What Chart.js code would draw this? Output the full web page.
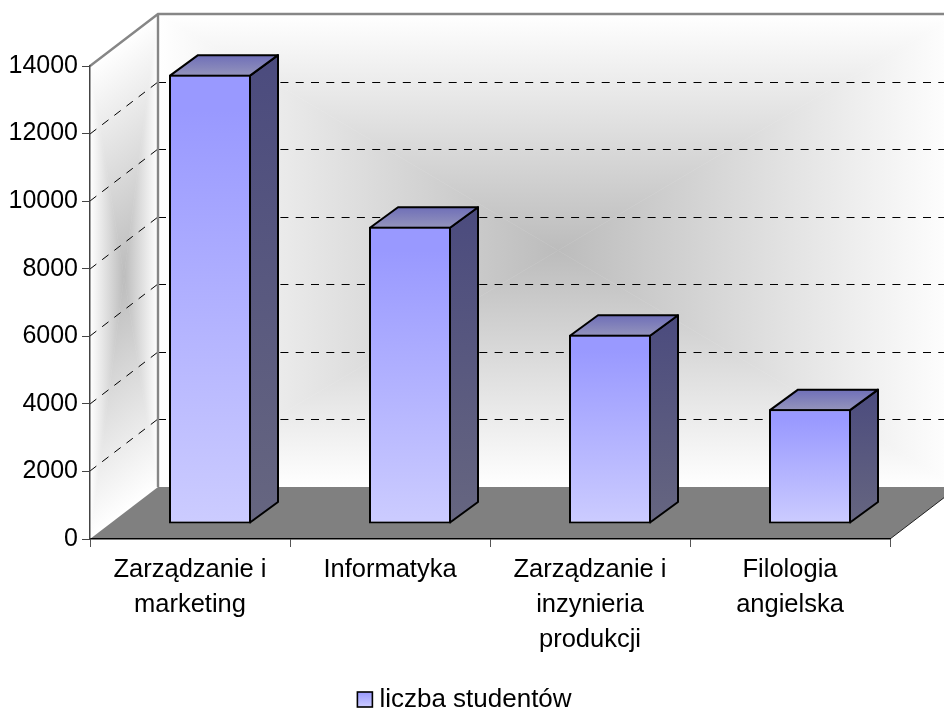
<!DOCTYPE html>
<html>
<head>
<meta charset="utf-8">
<style>html,body{margin:0;padding:0;background:#fff}#box{width:944px;height:708px}</style>
<script src="https://cdn.jsdelivr.net/npm/chart.js@4"></script>
</head>
<body>
<div id="box"><canvas id="c" width="944" height="708"></canvas></div>
<script>
const categories = [["Zarządzanie i","marketing"],"Informatyka",["Zarządzanie i","inzynieria","produkcji"],["Filologia","angielska"]];
const studentCounts = [13300, 8800, 5600, 3400];
const seriesName = "liczba studentów";
const axisMax = 14000;
const axisStep = 2000;

const FAMILY = '"Liberation Sans", Arial, sans-serif';
const DEPTH = {x:68, y:-52};
const BAR_SHIFT = {x:20, y:-15};
const BAR_DEPTH = {x:28, y:-20.5};
const LEGEND_SHIFT = {x:19, y:15};

function poly(ctx, pts){
  ctx.beginPath();
  pts.forEach((p,i)=> i ? ctx.lineTo(p[0],p[1]) : ctx.moveTo(p[0],p[1]));
  ctx.closePath();
}
function line(ctx,x1,y1,x2,y2){ctx.beginPath();ctx.moveTo(x1,y1);ctx.lineTo(x2,y2);ctx.stroke();}

// rectangular "from centre" gradient made of four triangles
function pathGradient(ctx,x0,y0,w,h,centre){
  const cx=x0+w/2, cy=y0+h/2;
  const tris=[
    [[x0,y0],[x0+w,y0],[cx,cy],x0,y0,x0,cy],
    [[x0,y0+h],[x0+w,y0+h],[cx,cy],x0,y0+h,x0,cy],
    [[x0,y0],[x0,y0+h],[cx,cy],x0,y0,cx,y0],
    [[x0+w,y0],[x0+w,y0+h],[cx,cy],x0+w,y0,cx,y0]
  ];
  tris.forEach(t=>{
    const g=ctx.createLinearGradient(t[3],t[4],t[5],t[6]);
    g.addColorStop(0,'#ffffff');g.addColorStop(1,centre);
    ctx.fillStyle=g;ctx.strokeStyle=g;ctx.lineWidth=0.5;
    poly(ctx,[t[0],t[1],t[2]]);ctx.fill();ctx.stroke();
  });
}

const walls = {
  id:'walls',
  beforeDraw(chart){
    const ctx=chart.ctx, y=chart.scales.y, a=chart.chartArea;
    ctx.save();
    ctx.fillStyle='#fff';ctx.fillRect(0,0,chart.width,chart.height);
    const L=a.left,R=a.right,T=a.top,B=a.bottom;
    const bl=L+DEPTH.x, br=R+DEPTH.x, bt=T+DEPTH.y, bb=B+DEPTH.y;
    pathGradient(ctx,bl,bt,br-bl,bb-bt,'#bcbcbc');
    ctx.save();
    poly(ctx,[[L,T],[bl,bt],[bl,bb],[L,B]]);ctx.clip();
    ctx.transform(1,DEPTH.y/DEPTH.x,0,1,L,T);
    pathGradient(ctx,0,0,DEPTH.x,B-T,'#bcbcbc');
    ctx.restore();
    ctx.fillStyle='#808080';
    poly(ctx,[[L,B],[bl,bb],[br,bb],[R,B]]);ctx.fill();
    ctx.strokeStyle='#222';ctx.lineWidth=1;
    line(ctx,R,B,br,bb);
    ctx.strokeStyle='#000';ctx.lineWidth=1;ctx.setLineDash([8,7.3]);
    y.ticks.forEach(t=>{
      if(t.value<=0||t.value>=axisMax) return;
      const p=Math.round(y.getPixelForValue(t.value));
      line(ctx,L,p,bl,p+DEPTH.y);
      line(ctx,bl,p+DEPTH.y+0.5,br,p+DEPTH.y+0.5);
    });
    ctx.setLineDash([]);
    ctx.strokeStyle='#868686';ctx.lineWidth=2.4;
    ctx.beginPath();ctx.moveTo(L,T);ctx.lineTo(bl,bt);ctx.lineTo(br,bt);ctx.moveTo(bl,bt);ctx.lineTo(bl,bb);ctx.stroke();
    ctx.restore();
  },
  afterLayout(chart){
    chart.legend.left+=LEGEND_SHIFT.x;chart.legend.right+=LEGEND_SHIFT.x;
    chart.legend.top+=LEGEND_SHIFT.y;chart.legend.bottom+=LEGEND_SHIFT.y;
  },
  beforeDatasetDraw(chart,args){
    const ctx=chart.ctx, meta=args.meta;
    ctx.save();
    ctx.translate(BAR_SHIFT.x,BAR_SHIFT.y);
    meta.data.forEach(el=>{
      const p=el.getProps(['x','y','base','width'],true);
      const l=p.x-p.width/2+1,r=p.x+p.width/2-1,t=p.y+1,b=p.base-1;
      const dx=BAR_DEPTH.x,dy=BAR_DEPTH.y;
      let g=ctx.createLinearGradient(0,t+dy,0,b);
      g.addColorStop(0,'#4b4b7e');g.addColorStop(1,'#666680');
      ctx.fillStyle=g;ctx.strokeStyle='#000';ctx.lineWidth=2;ctx.lineJoin='round';
      poly(ctx,[[r,t],[r+dx,t+dy],[r+dx,b+dy],[r,b]]);ctx.fill();ctx.stroke();
      g=ctx.createLinearGradient(0,t+dy,0,t);
      g.addColorStop(0,'#6f6fb8');g.addColorStop(1,'#9494bc');
      ctx.fillStyle=g;
      poly(ctx,[[l,t],[l+dx,t+dy],[r+dx,t+dy],[r,t]]);ctx.fill();ctx.stroke();
    });
  },
  afterDatasetDraw(chart){chart.ctx.restore();},
  afterDraw(chart){
    const ctx=chart.ctx, h=chart.legend.legendHitBoxes[0];
    const s=15, x=h.left+1, y=692;
    const g=ctx.createLinearGradient(0,y,0,y+s);
    g.addColorStop(0,'#9999ff');g.addColorStop(1,'#ccccff');
    ctx.save();
    ctx.fillStyle=g;ctx.strokeStyle='#000';ctx.lineWidth=1.6;
    ctx.fillRect(x,y,s,s);ctx.strokeRect(x,y,s,s);
    ctx.restore();
  }
};

function barFill(c){
  const chart=c.chart;
  if(!chart.chartArea||!c.parsed) return '#9999ff';
  const y=chart.scales.y;
  const g=chart.ctx.createLinearGradient(0,y.getPixelForValue(c.parsed.y),0,y.getPixelForValue(0));
  g.addColorStop(0.08,'#9999ff');g.addColorStop(1,'#ccccff');
  return g;
}

new Chart(document.getElementById('c'),{
  type:'bar',
  data:{labels:categories,datasets:[{
    label:seriesName,data:studentCounts,
    backgroundColor:barFill,borderColor:'#000',borderWidth:2,borderSkipped:false,
    barPercentage:0.41,categoryPercentage:1
  }]},
  plugins:[walls],
  options:{
    responsive:false,animation:false,
    layout:{padding:{top:66,right:54,left:0,bottom:0}},
    plugins:{
      tooltip:{enabled:false},title:{display:false},
      legend:{position:'bottom',
        labels:{
          font:{family:FAMILY,size:26},color:'#000',boxWidth:10,boxHeight:10,padding:0,
          generateLabels(){
            return [{text:seriesName,fillStyle:'rgba(0,0,0,0)',strokeStyle:'rgba(0,0,0,0)',lineWidth:0,datasetIndex:0,hidden:false}];
          }
        }
      }
    },
    scales:{
      x:{
        grid:{offset:true,drawOnChartArea:false,drawTicks:true,tickLength:8,color:'#555',lineWidth:1},
        border:{color:'#000',width:1.5},
        afterFit(a){a.height=133;},
        ticks:{font:{family:FAMILY,size:25.5,lineHeight:1.37},color:'#000',maxRotation:0,autoSkip:false,padding:6}
      },
      y:{
        min:0,max:axisMax,
        grid:{drawOnChartArea:false,drawTicks:true,tickLength:8,color:'#444',lineWidth:1},
        border:{color:'#444',width:1.5},
        afterFit(a){a.width=90;},
        ticks:{stepSize:axisStep,font:{family:FAMILY,size:25},color:'#000',padding:4,callback:v=>String(v)}
      }
    }
  }
});
</script>
</body>
</html>
